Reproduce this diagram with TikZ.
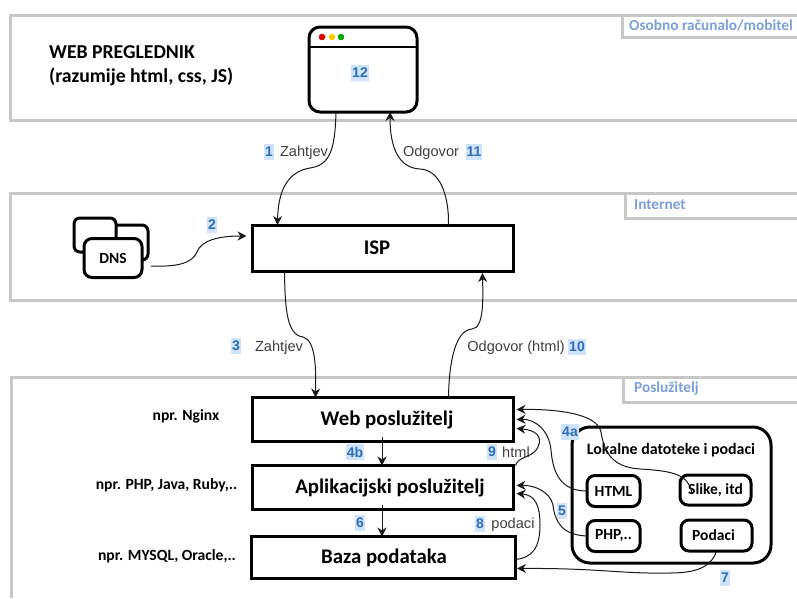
\documentclass[tikz,border=0pt]{standalone}
\usepackage{fontspec}
\setmainfont{Carlito}
\newfontfamily\arialfont{Liberation Sans}
\usetikzlibrary{arrows.meta}
\definecolor{tagblue}{HTML}{7C9FD9}
\definecolor{numblue}{HTML}{2F6DB5}
\definecolor{numback}{HTML}{CFE4FB}

\begin{document}
\begin{tikzpicture}[x=1pt,y=-1pt,node distance=68pt]
        \tikzstyle{panel} = [draw=black!22, line width=3pt]
        \tikzstyle{box} = [rectangle, minimum width=261pt, minimum height=44pt, text centered, draw=black, line width=3pt, outer sep=0pt, font=\fontsize{20.8}{22}\selectfont\bfseries]
        \tikzstyle{file} = [rectangle, rounded corners=8pt, minimum height=31pt, text centered, draw=black, line width=3pt, outer sep=0pt, inner sep=0pt, font=\fontsize{15.5}{17}\selectfont\bfseries]
        \tikzstyle{note} = [font=\fontsize{15.6}{17}\selectfont\bfseries, inner sep=0pt]
        \tikzstyle{num} = [fill=numback, text=numblue, inner xsep=1pt, inner ysep=0pt, minimum height=16pt, yshift=-1pt, font=\arialfont\fontsize{14}{16}\selectfont\bfseries]
        \tikzstyle{say} = [text=black!75, inner sep=0pt, yshift=-1.5pt, font=\arialfont\fontsize{14.6}{16}\selectfont]
        \tikzstyle{tag} = [text=tagblue, anchor=west, inner sep=0pt, font=\fontsize{15.3}{18}\selectfont\bfseries]
        \tikzstyle{flow} = [-{Stealth[length=9pt,width=9pt]}, black!90, line width=1pt]

        \useasboundingbox (0,0) rectangle (797,598);

        % three areas
        \draw [panel] (797,15) -- (10,15) -- (10,120) -- (797,120);
        \draw [panel] (622,15) -- (622,37) -- (797,37);
        \draw [panel] (797,193) -- (10,193) -- (10,300) -- (797,300);
        \draw [panel] (797,218) -- (625,218) -- (625,195);
        \draw [panel] (797,377) -- (11,377) -- (11,598);
        \draw [panel] (797,402) -- (623,402) -- (623,377);
        \node (tagpc) [tag] at (629,25) {Osobno računalo/mobitel};
        \node (tagnet) [tag] at (634,205) {Internet};
        \node (tagsrv) [tag] at (634,388) {Poslužitelj};

        % browser
        \node (title) [anchor=west, align=left, inner sep=0pt, font=\fontsize{19.7}{24}\selectfont\bfseries] at (49,66) {WEB PREGLEDNIK\\(razumije html, css, JS)};
        \node (browser) [draw=black, line width=3pt, rounded corners=11pt, minimum width=108pt, minimum height=85pt, outer sep=0pt] at (363,69.5) {};
        \draw [line width=2.5pt] (browser.west |- 0,47) -- (browser.east |- 0,47);
        \fill [red!90!black] (322,37) circle (3.3pt);
        \fill [orange!40!yellow] (332,37) circle (3.3pt);
        \fill [green!65!black] (341,37) circle (3.3pt);
        \node (n12) [num] at (360,72) {12};

        % DNS
        \draw [line width=3pt, rounded corners=6pt, fill=white] (74,218) rectangle (116,252);
        \draw [line width=3pt, rounded corners=6pt] (116,225) -- (148,225) -- (148,260) -- (140,260);
        \node (dns) [file, fill=white, minimum width=58pt, minimum height=39pt] at (113,258) {DNS};

        % main boxes
        \node (isp) [box, minimum height=46pt] at (383,248) {\hspace*{-12pt}ISP};
        \node (web) [box] at (383,419.5) {\hspace*{8pt}Web poslužitelj};
        \node (app) [box, below of=web] {\hspace*{14pt}Aplikacijski poslužitelj};
        \node (baza) [box, below of=app, node distance=70pt, minimum width=264pt, minimum height=42pt] {\hspace*{2pt}Baza podataka};

        \node (nginx) [note] at (186,416) {npr. Nginx};
        \node (php) [note] at (166.5,485) {npr. PHP, Java, Ruby,..};
        \node (mysql) [note] at (167,556) {npr. MYSQL, Oracle,..};

        % local files
        \node (local) [draw=black, line width=3pt, rounded corners=18pt, minimum width=199pt, minimum height=136pt, outer sep=0pt] at (671.5,495) {};
        \node (localtxt) [note, font=\fontsize{15.9}{17}\selectfont\bfseries] at (671,450) {Lokalne datoteke i podaci};
        \node (html) [file, minimum width=53pt] at (613.5,491) {HTML};
        \node (slike) [file, minimum width=71pt, minimum height=30pt] at (715.5,490) {Slike, itd};
        \node (phpf) [file, minimum width=53pt] at (613.5,536) {PHP,..};
        \node (podaci) [file, minimum width=71pt] at (716.5,535.5) {\hspace*{-6pt}Podaci};

        % numbers and labels
        \node (n1) [num] at (269,151) {1};
        \node (z1) [say] at (304,151) {Zahtjev};
        \node (o11) [say] at (431,151) {Odgovor};
        \node (n11) [num] at (474,151) {11};
        \node (n2) [num] at (212,224) {2};
        \node (n3) [num] at (236,345) {3};
        \node (z3) [say] at (279,346) {Zahtjev};
        \node (o10) [say] at (516,346) {Odgovor (html)};
        \node (n10) [num] at (577,346) {10};
        \node (n4b) [num] at (355,451) {4b};
        \node (n6) [num] at (360,522) {6};
        \node (n9) [num] at (492,451) {9};
        \node (h9) [say] at (516,451) {html};
        \node (n8) [num] at (480,523) {8};
        \node (p8) [say] at (513,523) {podaci};
        \node (n4a) [num] at (570,431) {4a};
        \node (n5) [num] at (562,510) {5};
        \node (n7) [num] at (725,577) {7};

        % connectors
        \draw [flow] ([xshift=27pt]browser.south west) .. controls (335,150) and (330,165) .. (310,168) .. controls (285,172) and (278,195) .. ([xshift=25pt]isp.north west);
        \draw [flow] ([xshift=196pt]isp.north west) .. controls (449,195) and (440,170) .. (420,169) .. controls (400,168) and (390,150) .. ([xshift=81pt]browser.south west);
        \draw [flow] ([xshift=9pt,yshift=-8pt]dns.east) .. controls (175,267) and (192,264) .. (197,252) .. controls (201,240) and (220,236) .. ([xshift=-6pt,yshift=12pt]isp.west);
        \draw [flow] ([xshift=32pt]isp.south west) .. controls (285,310) and (287,335) .. (303,337) .. controls (316,340) and (316,370) .. ([xshift=63pt]web.north west);
        \draw [flow] ([xshift=196pt]web.north west) .. controls (449,360) and (456,330) .. (472,329) .. controls (484,328) and (483,300) .. ([xshift=230pt,yshift=-2pt]isp.south west);
        \draw [flow] (382,437) -- (app.north -| 382,0);
        \draw [flow] (382,505) -- (baza.north -| 382,0);
        \draw [flow] ([xshift=2pt]app.north east) .. controls (518,456) and (533,458) .. (538,447) .. controls (543,436) and (535,430) .. ([xshift=3pt,yshift=-9pt]web.east);
        \draw [flow] (html.west) .. controls (562,491) and (553,475) .. (551,450) .. controls (549,430) and (535,419) .. ([xshift=3pt]web.east);
        \draw [flow] ([xshift=12pt,yshift=-3pt]slike.west) .. controls (688,475) and (675,471) .. (640,469) .. controls (610,467) and (604,450) .. (601,432) .. controls (597,412) and (550,409) .. ([xshift=3pt,yshift=10pt]web.east);
        \draw [flow] (phpf.west) .. controls (562,535) and (555,522) .. (553,505) .. controls (550,492) and (535,485) .. ([xshift=3pt,yshift=2pt]app.east);
        \draw [flow] ([yshift=-2pt]baza.east) .. controls (532,558) and (540,548) .. (540,525) .. controls (540,505) and (535,495) .. ([xshift=3pt,yshift=-6pt]app.east);
        \draw [flow] (podaci.south) .. controls (712,565) and (700,573) .. (670,573) .. controls (620,574) and (600,568) .. ([xshift=2pt,yshift=-11pt]baza.east);
    \end{tikzpicture}
\end{document}
